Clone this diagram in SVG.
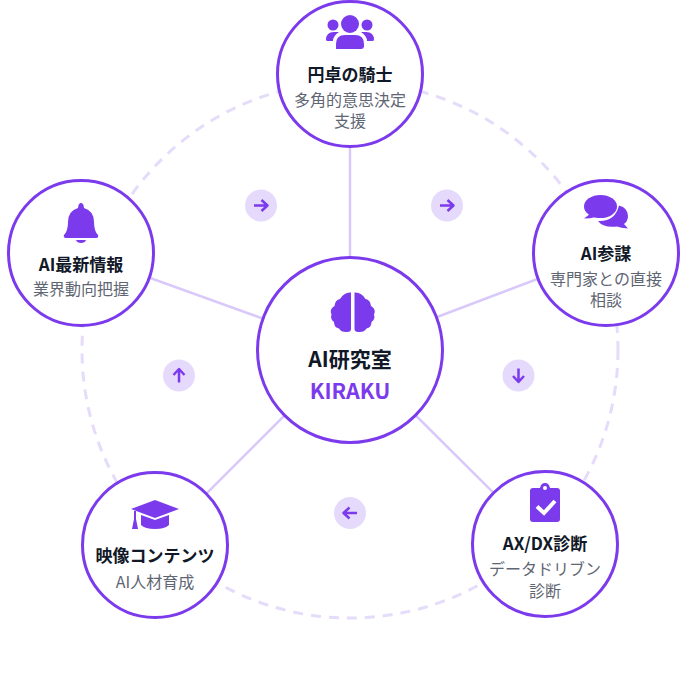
<svg xmlns="http://www.w3.org/2000/svg" width="700" height="700" viewBox="0 0 700 700">
<style>
text{font-family:"Noto Sans CJK JP","Noto Sans",sans-serif;text-anchor:middle}
.n{fill:#fff;stroke:#7c3aed;stroke-width:3}
.t{font-size:17px;font-weight:700;fill:#111827}
.s{font-size:16px;fill:#5f6673}
.i{fill:#7c3aed}
.b{fill:#e6dafc}
.a{fill:none;stroke:#7c3aed;stroke-width:2.500;stroke-linejoin:round}
.sp{stroke:#d9c9fb;stroke-width:2.500}
</style>
<circle cx="350" cy="350" r="268" fill="none" stroke="#e5dcfb" stroke-width="3" stroke-dasharray="10 8"/>
<g id="connectors">
<line class="sp" x1="350" y1="350" x2="350" y2="74"/>
<line class="sp" x1="350" y1="350" x2="606" y2="253"/>
<line class="sp" x1="350" y1="350" x2="545" y2="544"/>
<line class="sp" x1="350" y1="350" x2="155" y2="545"/>
<line class="sp" x1="350" y1="350" x2="81" y2="253"/>
</g>
<g id="arrow-1"><circle class="b" cx="261" cy="205.500" r="16"/><path class="a" d="M254 205.500H267M261.500 200L267.500 205.500L261.500 211"/></g>
<g id="arrow-2"><circle class="b" cx="447" cy="205.500" r="16"/><path class="a" d="M440 205.500H453M447.500 200L453.500 205.500L447.500 211"/></g>
<g id="arrow-3"><circle class="b" cx="518.500" cy="375.500" r="16"/><path class="a" d="M518.500 368.500V381.500M513 376L518.500 382L524 376"/></g>
<g id="arrow-4"><circle class="b" cx="350" cy="513" r="16"/><path class="a" d="M357 513H344M349.500 507.500L343.500 513L349.500 518.500"/></g>
<g id="arrow-5"><circle class="b" cx="179" cy="375.500" r="16"/><path class="a" d="M179 382.500V369.500M173.500 375L179 369L184.500 375"/></g>
<g id="center">
<circle class="n" cx="350" cy="350" r="92.500"/>
<path class="i" d="M351 292.500V329Q351 332.500 346 332Q341 332 339 328.500Q334 327.500 334 322Q330 319 331.500 314.500Q329 309 334.500 306Q335 300 340 299Q344 292 351 292.500Z"/>
<path class="i" d="M354.500 292.500V329Q354.500 332.500 359.500 332Q364.500 332 366.500 328.500Q371.500 327.500 371.500 322Q375.500 319 374 314.500Q376.500 309 371 306Q370.500 300 365.500 299Q361.500 292 354.500 292.500Z"/>
<text x="350" y="367" font-size="21" font-weight="700" fill="#111827">AI研究室</text>
<text x="350" y="399" font-size="21.500" font-weight="700" fill="#7c3aed">KIRAKU</text>
</g>
<g id="node-top">
<circle class="n" cx="350" cy="74" r="72.500"/>
<circle class="i" cx="350" cy="24" r="9"/><circle class="i" cx="333" cy="25" r="5.500"/><circle class="i" cx="367" cy="25" r="5.500"/>
<path class="i" d="M336 49V44Q336 35 345 35H355Q364 35 364 44V46Q364 49 361 49Z"/>
<path class="i" d="M326 40Q326 32 334 32H339Q333 36 333 41H328Q326 41 326 40ZM374 40Q374 32 366 32H361Q367 36 367 41H372Q374 41 374 40Z"/>
<text class="t" x="350" y="81">円卓の騎士</text>
<text class="s" x="350" y="106">多角的意思決定</text>
<text class="s" x="350" y="127">支援</text>
</g>
<g id="node-right">
<circle class="n" cx="606" cy="253" r="72.500"/>
<ellipse class="i" cx="600.500" cy="206.500" rx="16.500" ry="11.500"/>
<path class="i" d="M590 214L584 218.500Q590 218.500 596 217Z"/>
<path class="i" d="M619 205.500Q628 208 628 216Q628 221 624 224L628 228.500Q621 228 617 226.500Q603 228 598 221Q615 222 619 205.500Z"/>
<text class="t" x="606" y="260">AI参謀</text>
<text class="s" x="606" y="285">専門家との直接</text>
<text class="s" x="606" y="306">相談</text>
</g>
<g id="node-lower-right">
<circle class="n" cx="545" cy="544" r="72.500"/>
<path class="i" d="M533 488H540Q541 483 545 483Q549 483 550 488H557Q560 488 560 491V519Q560 522 557 522H533Q530 522 530 519V491Q530 488 533 488Z"/>
<circle cx="545" cy="488" r="2" fill="#fff"/>
<path d="M537 506.500L544 513L555 501" fill="none" stroke="#fff" stroke-width="4"/>
<text class="t" x="545" y="550">AX/DX診断</text>
<text class="s" x="545" y="575">データドリブン</text>
<text class="s" x="545" y="597">診断</text>
</g>
<g id="node-lower-left">
<circle class="n" cx="155" cy="545" r="72.500"/>
<path class="i" d="M155 500L179 509L155 518L131 509Z"/>
<path class="i" d="M141 515L155 520L169 515V525Q165 529 155 529Q145 529 141 525Z"/>
<path class="i" d="M134 511H136V519L138 529H132L134 519Z"/>
<text class="t" x="155" y="562">映像コンテンツ</text>
<text class="s" x="155" y="588">AI人材育成</text>
</g>
<g id="node-left">
<circle class="n" cx="81" cy="253" r="72.500"/>
<path class="i" d="M78 208Q78.500 203 81 203Q83.500 203 84 208Q94 211 94 222Q94 231 98 235Q99 238 96 238H66Q63 238 64 235Q68 231 68 222Q68 211 78 208Z"/>
<path class="i" d="M76 240H86Q85 243 81 243Q77 243 76 240Z"/>
<text class="t" x="81" y="271">AI最新情報</text>
<text class="s" x="81" y="295">業界動向把握</text>
</g>
</svg>
